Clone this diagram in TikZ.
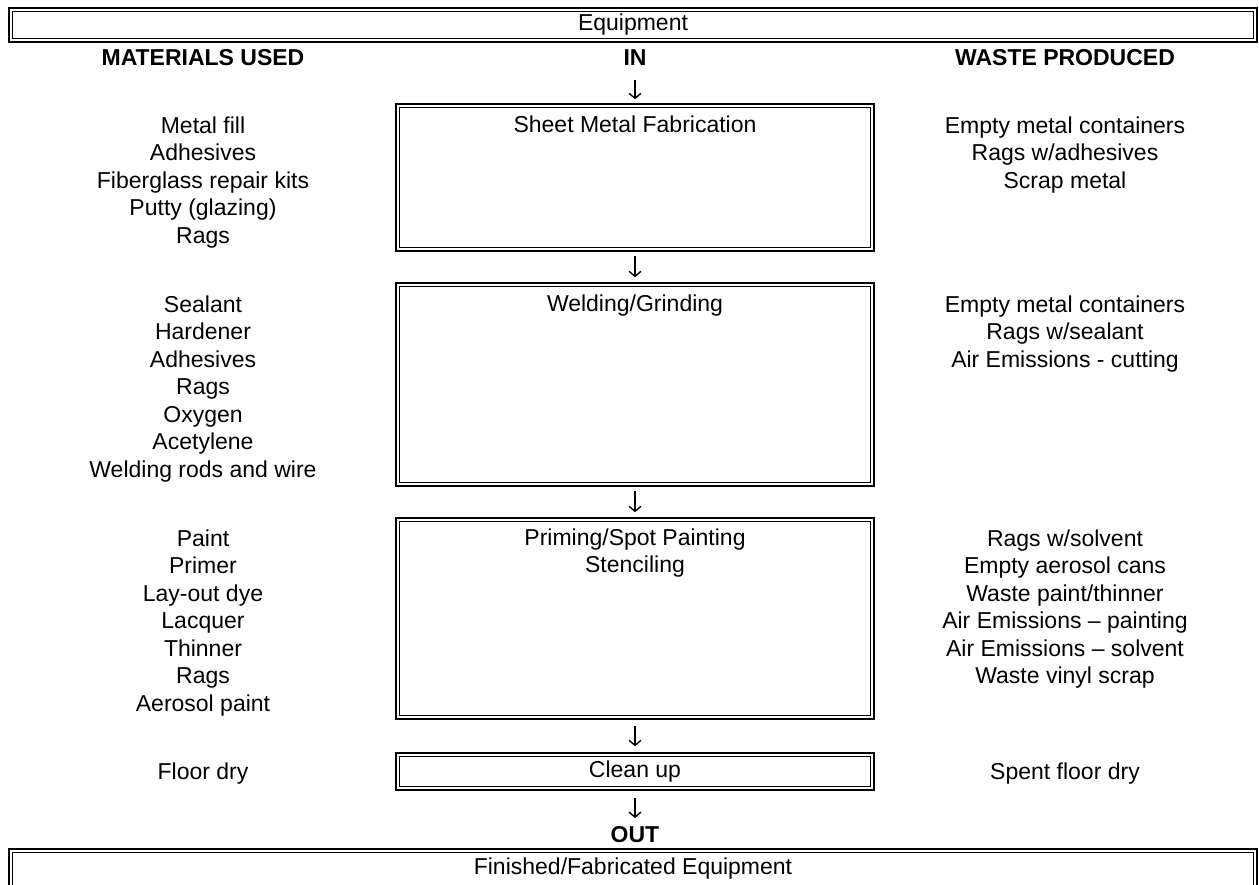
\documentclass[tikz,border=0pt]{standalone}
\usepackage{fontspec}
\setmainfont{Liberation Sans}
\usetikzlibrary{arrows.meta,positioning}

\tikzset{
  dbox/.style={draw, line width=1.6pt, double, double distance=2pt, inner sep=0pt,
    font=\fontsize{23}{27.5}\selectfont},
  txt/.style={inner sep=0pt, align=center, anchor=north, font=\fontsize{23}{27.5}\selectfont},
  hdr/.style={txt, font=\fontsize{23}{27.5}\selectfont\bfseries},
  flow/.style={-{Straight Barb[length=5pt,width=12pt]}, line width=1.4pt}
}

\begin{document}
\begin{tikzpicture}[x=1pt,y=-1pt]
\useasboundingbox (0,0) rectangle (1259,884);
\clip (0,0) rectangle (1259,884);

% top and bottom bars
\node[dbox, minimum width=1244.8pt, minimum height=30.8pt] (equip) at (633,25) {Equipment};
\node[dbox, minimum width=1244.8pt, minimum height=60pt] (fin) at (633,880.6) {};
\node[txt, below=7.8pt of fin.north] (fint) {Finished/Fabricated Equipment};

% column heads
\node[hdr] (mat) at (203,49.4) {MATERIALS USED};
\node[hdr] (in) at (635,49.4) {IN};
\node[hdr] (waste) at (1065,49.4) {WASTE PRODUCED};

% process boxes
\node[dbox, minimum width=474.8pt, minimum height=143.8pt] (fab) at (635,177.5) {};
\node[dbox, minimum width=474.8pt, minimum height=199.8pt] (weld) at (635,384.5) {};
\node[dbox, minimum width=474.8pt, minimum height=197.8pt] (paint) at (635,618.5) {};
\node[dbox, minimum width=474.8pt, minimum height=33.8pt] (clean) at (635,771.5) {Clean up};
\node[txt, below=10.8pt of fab.north] (fabt) {Sheet Metal Fabrication};
\node[txt, below=10.8pt of weld.north] (weldt) {Welding/Grinding};
\node[txt, below=9.8pt of paint.north] (paintt) {Priming/Spot Painting\\Stenciling};

% materials used
\node[txt] (m1) at (203,116.4) {Metal fill\\Adhesives\\Fiberglass repair kits\\Putty (glazing)\\Rags};
\node[txt] (m2) at (203,295.4) {Sealant\\Hardener\\Adhesives\\Rags\\Oxygen\\Acetylene\\Welding rods and wire};
\node[txt] (m3) at (203,529.4) {Paint\\Primer\\Lay-out dye\\Lacquer\\Thinner\\Rags\\Aerosol paint};
\node[txt] (m4) at (203,762.9) {Floor dry};

% waste produced
\node[txt] (w1) at (1065,116.4) {Empty metal containers\\Rags w/adhesives\\Scrap metal};
\node[txt] (w2) at (1065,295.4) {Empty metal containers\\Rags w/sealant\\Air Emissions - cutting};
\node[txt] (w3) at (1065,529.4) {Rags w/solvent\\Empty aerosol cans\\Waste paint/thinner\\Air Emissions -- painting\\Air Emissions -- solvent\\Waste vinyl scrap};
\node[txt] (w4) at (1065,762.9) {Spent floor dry};

\node[hdr] (out) at (635,826.4) {OUT};

% arrows
\draw[flow, shorten <=14pt, shorten >=5.6pt] (in) -- (fab);
\draw[flow, shorten <=5.6pt, shorten >=6.6pt] (fab) -- (weld);
\draw[flow, shorten <=5.6pt, shorten >=6.6pt] (weld) -- (paint);
\draw[flow, shorten <=7.6pt, shorten >=7.6pt] (paint) -- (clean);
\draw[flow, shorten <=8.6pt, shorten >=8.4pt] (clean) -- (out);
\end{tikzpicture}
\end{document}
